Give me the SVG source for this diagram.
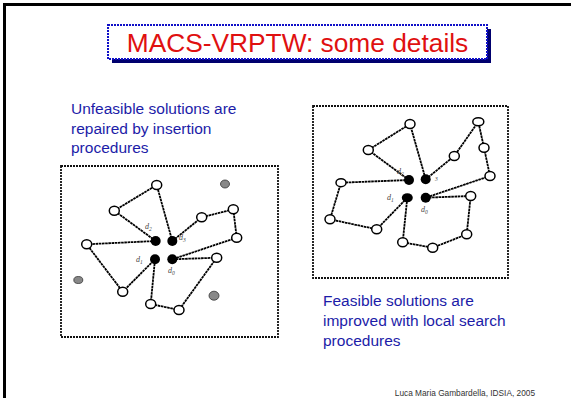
<svg xmlns="http://www.w3.org/2000/svg" width="571" height="398" viewBox="0 0 571 398">
<style>
.e{stroke:#000;stroke-width:1.8;stroke-dasharray:2.6 0.6;fill:none}
.w{fill:#fff;stroke:#000;stroke-width:1.5}
.b{fill:#000}
.g{fill:#888;stroke:#333;stroke-width:0.8}
.lbl{font-family:"Liberation Serif",serif;font-style:italic;font-size:8px;fill:#444}
.sub{font-size:5.5px}
.frame{fill:#fff;stroke:#111;stroke-width:1.8;stroke-dasharray:2 1}
.txt{font-family:"Liberation Sans",Arial,sans-serif;font-size:15.5px;fill:#1c1ca8}
</style>
<rect width="571" height="398" fill="#fff"/>
<path d="M4.5 398V4.5H571" fill="none" stroke="#000" stroke-width="3"/>
<g id="title">
<rect x="112" y="29" width="379" height="34" fill="#00006e"/>
<rect x="108" y="25" width="379" height="34" fill="#fff" stroke="#1010c8" stroke-width="2" stroke-dasharray="2 1"/>
<text x="297.5" y="52" text-anchor="middle" font-family="Liberation Sans,Arial,sans-serif" font-size="26.3" fill="#e01010">MACS-VRPTW: some details</text>
</g>
<g id="caption-left">
<text class="txt" x="71" y="114">Unfeasible solutions are</text>
<text class="txt" x="71" y="134">repaired by insertion</text>
<text class="txt" x="71" y="153">procedures</text>
</g>
<g id="caption-right">
<text class="txt" x="323" y="306">Feasible solutions are</text>
<text class="txt" x="323" y="326">improved with local search</text>
<text class="txt" x="323" y="346">procedures</text>
</g>
<text x="535" y="396" text-anchor="end" font-family="Liberation Sans,Arial,sans-serif" font-size="8.3" fill="#333">Luca Maria Gambardella, IDSIA, 2005</text>

<g id="left-diagram">
<rect class="frame" x="61" y="166" width="217" height="171"/>
<g id="left-edges">
<polyline class="e" points="155.7,241 114.3,210.7 156.7,185 172.3,241"/>
<polyline class="e" points="172.3,241 201.7,217.3 233.3,209.3 236.7,237.7 172.3,259.3"/>
<polyline class="e" points="172.3,259.3 216.7,257.7 179,310 150.7,304 155,259.3"/>
<polyline class="e" points="155.7,241 86.7,244.3 122.7,291.7 155,259.3"/>
</g>
<g id="left-nodes">
<ellipse class="w" cx="156.7" cy="185" rx="5" ry="4.5"/>
<ellipse class="w" cx="114.3" cy="210.7" rx="5" ry="4.5"/>
<ellipse class="w" cx="201.7" cy="217.3" rx="5" ry="4.5"/>
<ellipse class="w" cx="233.3" cy="209.3" rx="5" ry="4.5"/>
<ellipse class="w" cx="236.7" cy="237.7" rx="5" ry="4.5"/>
<ellipse class="w" cx="86.7" cy="244.3" rx="5" ry="4.5"/>
<ellipse class="w" cx="216.7" cy="257.7" rx="5" ry="4.5"/>
<ellipse class="w" cx="122.7" cy="291.7" rx="5" ry="4.5"/>
<ellipse class="w" cx="150.7" cy="304" rx="5" ry="4.5"/>
<ellipse class="w" cx="179" cy="310" rx="5" ry="4.5"/>
<ellipse class="g" cx="225" cy="184" rx="4.5" ry="4"/>
<ellipse class="g" cx="78.3" cy="280" rx="4.5" ry="3.5"/>
<ellipse class="g" cx="214" cy="295.7" rx="5" ry="4.5"/>
<circle class="b" cx="155.7" cy="241" r="5"/>
<circle class="b" cx="172.3" cy="241" r="5"/>
<circle class="b" cx="155" cy="259.3" r="5"/>
<circle class="b" cx="172.3" cy="259.3" r="5"/>
<text class="lbl" x="145" y="229">d<tspan class="sub" dy="1.5">2</tspan></text>
<text class="lbl" x="179" y="240">d<tspan class="sub" dy="1.5">3</tspan></text>
<text class="lbl" x="136" y="262">d<tspan class="sub" dy="1.5">1</tspan></text>
<text class="lbl" x="168" y="273">d<tspan class="sub" dy="1.5">0</tspan></text>
</g>
</g>

<g id="right-diagram">
<rect class="frame" x="313" y="106" width="195" height="172"/>
<g id="right-edges">
<polyline class="e" points="409,180 368.3,150 410,124 425.7,179.3"/>
<polyline class="e" points="425.7,179.3 454.3,156 478.3,121.7 484,147.7 490,176 425.7,197.7"/>
<polyline class="e" points="425.7,197.7 470.7,196 466.7,234.3 432.7,247.7 402.7,242.3 407.3,197.7"/>
<polyline class="e" points="409,180 341,182.7 330,219.3 376.7,229.3 407.3,197.7"/>
</g>
<g id="right-nodes">
<ellipse class="w" cx="410" cy="124" rx="5" ry="4.5"/>
<ellipse class="w" cx="478.3" cy="121.7" rx="5.5" ry="4"/>
<ellipse class="w" cx="368.3" cy="150" rx="5" ry="4.5"/>
<ellipse class="w" cx="484" cy="147.7" rx="5" ry="4.5"/>
<ellipse class="w" cx="454.3" cy="156" rx="5" ry="4.5"/>
<ellipse class="w" cx="490" cy="176" rx="5" ry="4.5"/>
<ellipse class="w" cx="341" cy="182.7" rx="5" ry="4"/>
<ellipse class="w" cx="470.7" cy="196" rx="5" ry="4.5"/>
<ellipse class="w" cx="330" cy="219.3" rx="5" ry="4.5"/>
<ellipse class="w" cx="376.7" cy="229.3" rx="5" ry="4.5"/>
<ellipse class="w" cx="466.7" cy="234.3" rx="5" ry="4.5"/>
<ellipse class="w" cx="402.7" cy="242.3" rx="5" ry="4.5"/>
<ellipse class="w" cx="432.7" cy="247.7" rx="5" ry="4.5"/>
<circle class="b" cx="409" cy="180" r="5"/>
<circle class="b" cx="425.7" cy="179.3" r="5"/>
<ellipse class="b" cx="407.3" cy="197.7" rx="5.5" ry="4.5"/>
<circle class="b" cx="425.7" cy="197.7" r="5"/>
<text class="lbl" x="397" y="174">d<tspan class="sub" dy="1.5">2</tspan></text>
<text class="lbl" x="435" y="179"><tspan class="sub" dy="1.5">3</tspan></text>
<text class="lbl" x="387" y="200">d<tspan class="sub" dy="1.5">1</tspan></text>
<text class="lbl" x="421" y="212">d<tspan class="sub" dy="1.5">0</tspan></text>
</g>
</g>
</svg>
